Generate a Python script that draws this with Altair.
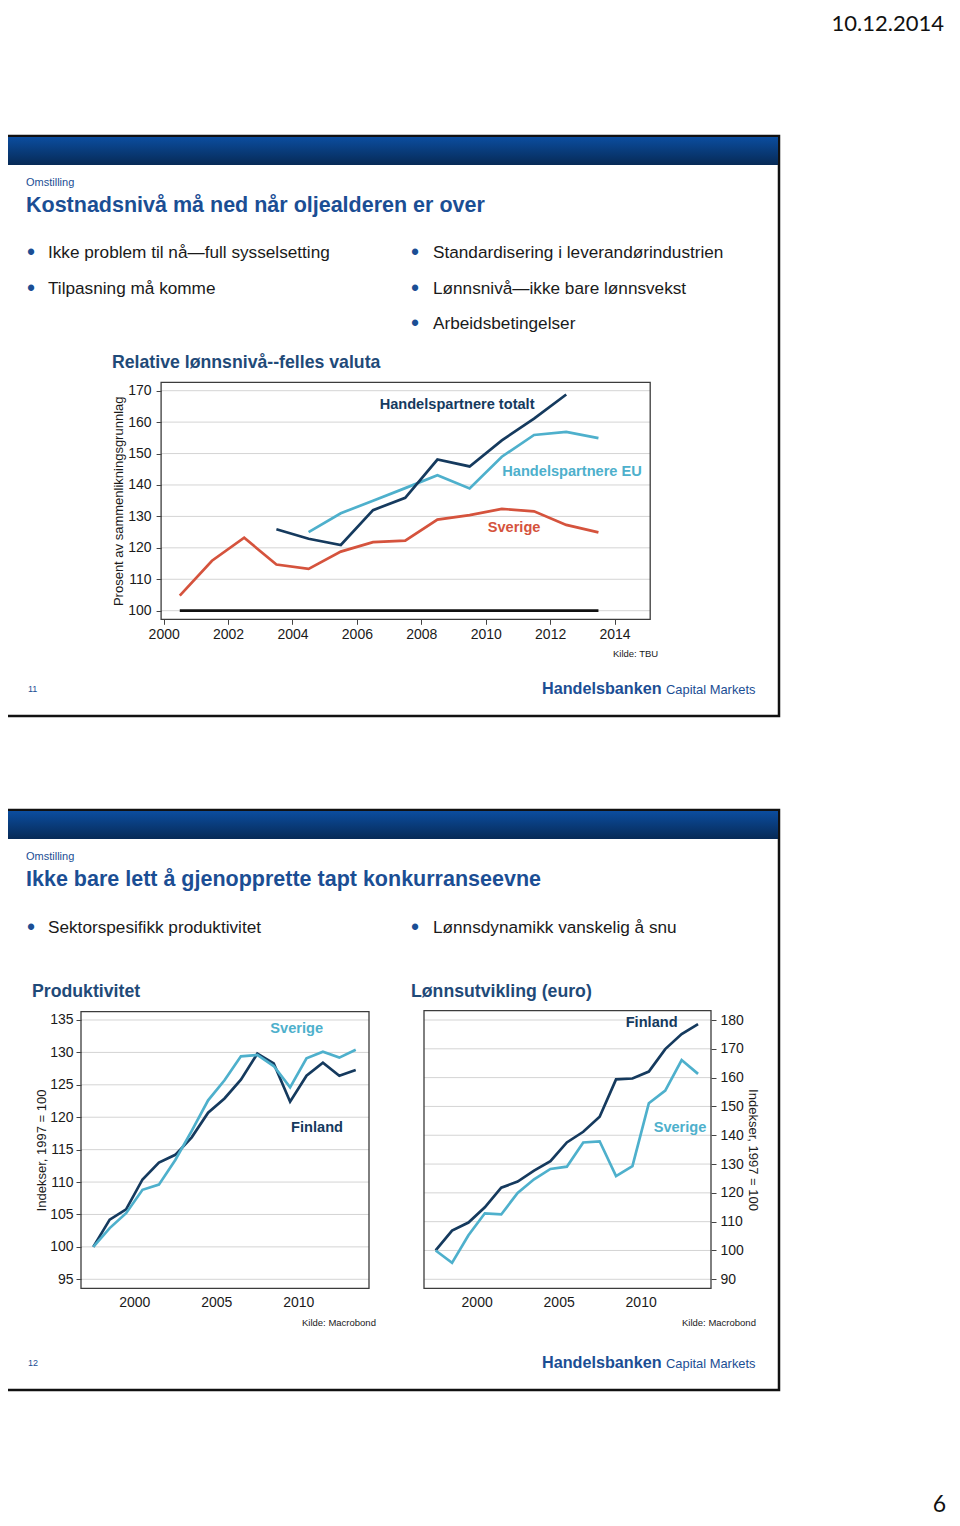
import altair as alt
import pandas as pd

# ---------------- data ----------------
rel_x_ticks = [2000, 2002, 2004, 2006, 2008, 2010, 2012, 2014]
rel_y_ticks = [100, 110, 120, 130, 140, 150, 160, 170]
rel_sverige_years = [2000.5, 2001.5, 2002.5, 2003.5, 2004.5, 2005.5, 2006.5,
                     2007.5, 2008.5, 2009.5, 2010.5, 2011.5, 2012.5, 2013.5]
rel_sverige = [104.8, 115.9, 123.2, 114.7, 113.3, 118.8, 121.8,
               122.3, 129.0, 130.4, 132.4, 131.6, 127.3, 124.9]
rel_total_years = [2003.5, 2004.5, 2005.5, 2006.5, 2007.5, 2008.5, 2009.5,
                   2010.5, 2011.5, 2012.5]
rel_total = [125.9, 122.9, 120.9, 132.0, 135.9, 148.1, 145.9, 154.2, 161.1, 168.8]
rel_eu_years = [2004.5, 2005.5, 2006.5, 2007.5, 2008.5, 2009.5, 2010.5,
                2011.5, 2012.5, 2013.5]
rel_eu = [125.0, 131.0, 135.0, 139.0, 143.1, 138.9, 149.0, 155.9, 156.9, 154.9]
rel_base_years = [2000.5, 2013.5]
rel_base = [100, 100]

prod_years = [1997.5, 1998.5, 1999.5, 2000.5, 2001.5, 2002.5, 2003.5, 2004.5,
              2005.5, 2006.5, 2007.5, 2008.5, 2009.5, 2010.5, 2011.5, 2012.5, 2013.5]
prod_finland = [100.0, 104.2, 105.8, 110.4, 113.0, 114.2, 116.9, 120.7,
                122.9, 125.8, 129.8, 128.3, 122.4, 126.4, 128.4, 126.4, 127.3]
prod_sverige = [100.0, 102.9, 105.2, 108.8, 109.6, 113.4, 117.9, 122.6,
                125.7, 129.4, 129.6, 127.9, 124.6, 129.1, 130.1, 129.2, 130.4]
prod_x_ticks = [2000, 2005, 2010]
prod_y_ticks = [95, 100, 105, 110, 115, 120, 125, 130, 135]

wage_years = [1997.5, 1998.5, 1999.5, 2000.5, 2001.5, 2002.5, 2003.5, 2004.5,
              2005.5, 2006.5, 2007.5, 2008.5, 2009.5, 2010.5, 2011.5, 2012.5, 2013.5]
wage_finland = [100.0, 106.9, 109.7, 115.0, 121.8, 123.9, 127.7, 131.0,
                137.5, 141.2, 146.4, 159.4, 159.7, 162.1, 169.9, 175.1, 178.6]
wage_sverige = [100.0, 95.7, 105.3, 112.9, 112.5, 120.0, 124.7, 128.3,
                129.1, 137.5, 137.9, 125.8, 129.3, 151.1, 155.5, 166.1, 161.3]
wage_x_ticks = [2000, 2005, 2010]
wage_y_ticks = [90, 100, 110, 120, 130, 140, 150, 160, 170, 180]

slide1_left_bullets = ["Ikke problem til nå—full sysselsetting", "Tilpasning må komme"]
slide1_right_bullets = ["Standardisering i leverandørindustrien",
                        "Lønnsnivå—ikke bare lønnsvekst", "Arbeidsbetingelser"]
slide2_left_bullets = ["Sektorspesifikk produktivitet"]
slide2_right_bullets = ["Lønnsdynamikk vanskelig å snu"]

# ---------------- styling ----------------
W, H = 944, 1510
M = 8
SANS = "Liberation Sans"
NAVY = "#153a5e"
LIGHT = "#4eb0cc"
RED = "#d5533d"
BLUE_T = "#1b4e94"
DARK_T = "#1f4a78"
TXT = "#1a1a1a"

dummy = pd.DataFrame({"d": [0]})


def txt(s, x, y, size, color=TXT, weight="normal", align="left", font=SANS):
    return alt.Chart(dummy).mark_text(
        text=s, align=align, baseline="middle", fontSize=size,
        fontWeight=weight, color=color, font=font
    ).encode(x=alt.value(x - M), y=alt.value(y - M))


def box(x0, y0, x1, y1, **kw):
    return alt.Chart(dummy).mark_rect(**kw).encode(
        x=alt.value(x0 - M), x2=alt.value(x1 - M),
        y=alt.value(y0 - M), y2=alt.value(y1 - M))


def panel(frame, xdom, ydom, xticks, yticks, series, labels, x_axis, y_axis):
    """Returns a flat list of layers; each has its own (identical) scales."""
    px0, px1, py0, py1 = frame
    xs = alt.Scale(domain=list(xdom), range=[px0 - M, px1 - M], nice=False, zero=False)
    ys = alt.Scale(domain=list(ydom), range=[py1 - M, py0 - M], nice=False, zero=False)
    parts = []
    # gridlines, carrying the y axis
    parts.append(alt.Chart(pd.DataFrame({"v": yticks})).mark_rule(
        color="#d4d4d4", strokeWidth=1
    ).encode(
        y=alt.Y("v:Q", scale=ys, axis=alt.Axis(values=yticks, **y_axis)),
        x=alt.XDatum(datum=xdom[0], type="quantitative", scale=xs, axis=None),
        x2=alt.X2Datum(datum=xdom[1]),
    ))
    for i, (xv, yv, col) in enumerate(series):
        ax = alt.Axis(values=xticks, **x_axis) if i == 0 else None
        df = pd.DataFrame({"x": xv, "y": yv})
        parts.append(alt.Chart(df).mark_line(color=col, strokeWidth=2.7).encode(
            x=alt.X("x:Q", scale=xs, axis=ax),
            y=alt.Y("y:Q", scale=ys, axis=None)))
    for (s, lx, ly, col) in labels:
        parts.append(alt.Chart(dummy).mark_text(
            text=s, color=col, fontWeight="bold", fontSize=14.6, font=SANS,
            align="center", baseline="middle"
        ).encode(
            x=alt.XDatum(datum=lx, type="quantitative", scale=xs, axis=None),
            y=alt.YDatum(datum=ly, type="quantitative", scale=ys, axis=None)))
    parts.append(alt.Chart(dummy).mark_rect(
        fillOpacity=0, stroke="#3c3c3c", strokeWidth=1.3
    ).encode(
        x=alt.XDatum(datum=xdom[0], type="quantitative", scale=xs, axis=None),
        x2=alt.X2Datum(datum=xdom[1]),
        y=alt.YDatum(datum=ydom[0], type="quantitative", scale=ys, axis=None),
        y2=alt.Y2Datum(datum=ydom[1])))
    return parts


def axis_common(size=14):
    return dict(grid=False, domain=False, labelFont=SANS, labelFontSize=size,
                labelColor=TXT, tickColor="#444", labelFlush=False,
                labelOverlap=False, format="d", zindex=2)


header_grad = alt.LinearGradient(
    gradient="linear", x1=0, x2=0, y1=0, y2=1,
    stops=[alt.GradientStop(offset=0, color="#0b4d9f"),
           alt.GradientStop(offset=1, color="#072a56")])

layers = []

# page decorations
layers.append(txt("10.12.2014", 944, 24, 22, color="#111", align="right", font="Lato"))
layers.append(txt("6", 946, 1505, 23, color="#111", align="right", font="Lato"))

for dy, title, lb, rb, num in [
    (0, "Kostnadsnivå må ned når oljealderen er over",
     slide1_left_bullets, slide1_right_bullets, "11"),
    (674, "Ikke bare lett å gjenopprette tapt konkurranseevne",
     slide2_left_bullets, slide2_right_bullets, "12"),
]:
    layers.append(box(5, 136 + dy, 779, 716 + dy, fill="white", stroke="#111", strokeWidth=2.5))
    layers.append(box(6, 137 + dy, 778, 165 + dy, fill=header_grad))
    layers.append(txt("Omstilling", 26, 183 + dy, 11, color=BLUE_T))
    layers.append(txt(title, 26, 206 + dy, 21.5, color=BLUE_T, weight="bold"))
    for i, s in enumerate(lb):
        yy = 253 + 36 * i + dy + (1 if dy else 0)
        layers.append(txt("•", 31, yy, 23, color=BLUE_T, align="center"))
        layers.append(txt(s, 48, yy, 17.2))
    for i, s in enumerate(rb):
        yy = 253 + 35.5 * i + dy + (1 if dy else 0)
        layers.append(txt("•", 415, yy, 23, color=BLUE_T, align="center"))
        layers.append(txt(s, 433, yy, 17.2))
    layers.append(txt(num, 28, 689 + dy, 9, color=BLUE_T))
    layers.append(txt("Handelsbanken", 542, 689 + dy, 16.2, color=BLUE_T, weight="bold"))
    layers.append(txt("Capital Markets", 666, 690 + dy, 12.9, color=BLUE_T))

# chart titles and sources
layers.append(txt("Relative lønnsnivå--felles valuta", 112, 363, 17.7, color=DARK_T, weight="bold"))
layers.append(txt("Kilde: TBU", 613, 654, 9.5))
layers.append(txt("Produktivitet", 32, 992, 17.7, color=DARK_T, weight="bold"))
layers.append(txt("Lønnsutvikling (euro)", 411, 992, 17.7, color=DARK_T, weight="bold"))
layers.append(txt("Kilde: Macrobond", 302, 1323, 9.5))
layers.append(txt("Kilde: Macrobond", 682, 1323, 9.5))

# chart 1: relative wage level
f1 = (161.1, 650.2, 382.3, 619.3)
layers += panel(
    f1, (1999.92, 2015.107), (97.26, 172.67), rel_x_ticks, rel_y_ticks,
    [(rel_base_years, rel_base, "#111111"),
     (rel_sverige_years, rel_sverige, RED),
     (rel_eu_years, rel_eu, LIGHT),
     (rel_total_years, rel_total, NAVY)],
    [("Handelspartnere totalt", 2009.11, 165.45, NAVY),
     ("Handelspartnere EU", 2012.68, 144.13, LIGHT),
     ("Sverige", 2010.88, 126.31, RED)],
    dict(orient="bottom", offset=(f1[3] - M) - H, tickSize=5, labelPadding=3,
         title=None, **axis_common()),
    dict(orient="left", offset=-(f1[0] - M), tickSize=5, labelPadding=5,
         title="Prosent av sammenlikningsgrunnlag", titleFont=SANS,
         titleFontSize=13, titleFontWeight="normal", titleColor=TXT,
         titlePadding=2, **axis_common()),
)

# chart 2: productivity
f2 = (81, 369, 1011.7, 1288.3)
layers += panel(
    f2, (1996.75, 2014.31), (93.61, 136.28), prod_x_ticks, prod_y_ticks,
    [(prod_years, prod_finland, NAVY), (prod_years, prod_sverige, LIGHT)],
    [("Sverige", 2009.9, 133.61, LIGHT), ("Finland", 2011.14, 118.39, NAVY)],
    dict(orient="bottom", offset=(f2[3] - M) - H, tickSize=0, labelPadding=7,
         title=None, **axis_common()),
    dict(orient="left", offset=-(f2[0] - M), tickSize=5, labelPadding=3,
         title="Indekser, 1997 = 100", titleFont=SANS, titleFontSize=13,
         titleFontWeight="normal", titleColor=TXT, titlePadding=1, **axis_common()),
)

# chart 3: wages
f3 = (424, 711, 1010.7, 1288.3)
layers += panel(
    f3, (1996.79, 2014.29), (86.87, 183.23), wage_x_ticks, wage_y_ticks,
    [(wage_years, wage_finland, NAVY), (wage_years, wage_sverige, LIGHT)],
    [("Finland", 2010.67, 179.06, NAVY), ("Sverige", 2012.4, 142.62, LIGHT)],
    dict(orient="bottom", offset=(f3[3] - M) - H, tickSize=0, labelPadding=7,
         title=None, **axis_common()),
    dict(orient="right", offset=(f3[1] - M) - W, tickSize=5, labelPadding=4,
         title="Indekser, 1997 = 100", titleFont=SANS, titleFontSize=13,
         titleFontWeight="normal", titleColor=TXT, titlePadding=2, **axis_common()),
)

chart = alt.layer(*layers).properties(
    width=W, height=H, padding=0,
    autosize=alt.AutoSizeParams(type="none"), background="white",
).resolve_scale(x="independent", y="independent").resolve_axis(
    x="independent", y="independent").configure_view(stroke=None)

chart.save("out.html", embed_options={"renderer": "svg", "actions": False})
